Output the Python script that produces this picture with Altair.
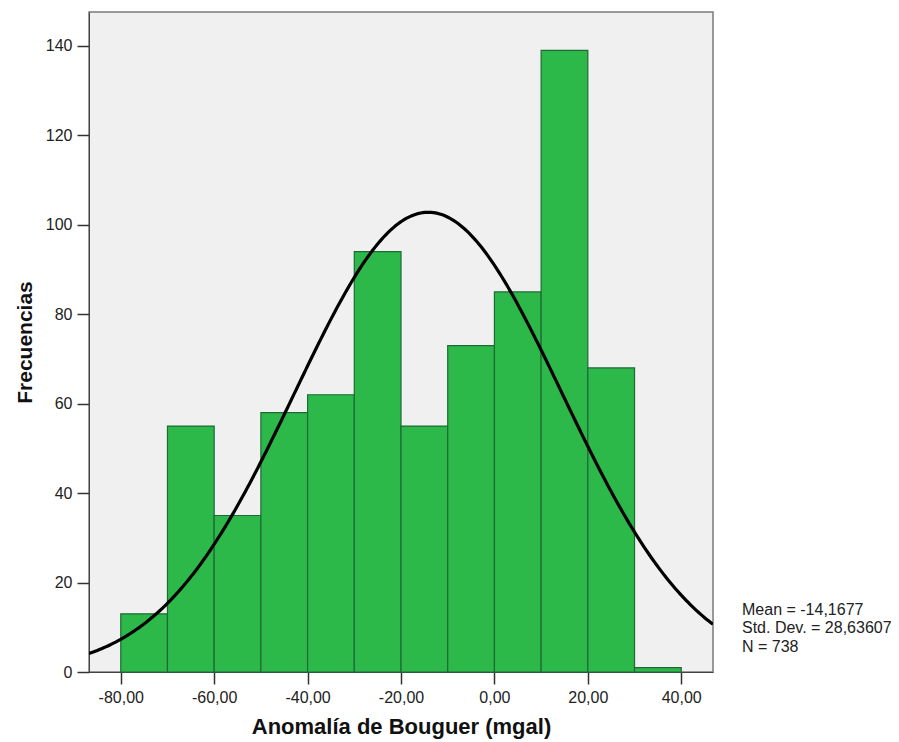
import altair as alt
import pandas as pd
import numpy as np

# Histogram bins (lower edges, width 10) and frequencies
bin_lower = [-80, -70, -60, -50, -40, -30, -20, -10, 0, 10, 20, 30]
counts = [13, 55, 35, 58, 62, 94, 55, 73, 85, 139, 68, 1]
bin_width = 10

# Normal curve parameters shown on the chart
mean = -14.1677
std = 28.63607
n_total = 738

x_ticks = [-80, -60, -40, -20, 0, 20, 40]
y_ticks = [0, 20, 40, 60, 80, 100, 120, 140]
stats_text = ["Mean = -14,1677", "Std. Dev. = 28,63607", "N = 738"]

x_dom = [-86.8, 46.8]
y_dom = [0, 147.6]

bars = pd.DataFrame({
    "lo": bin_lower,
    "hi": [b + bin_width for b in bin_lower],
    "count": counts,
})

xs = np.linspace(x_dom[0], x_dom[1], 300)
ys = n_total * bin_width / (std * np.sqrt(2 * np.pi)) * np.exp(-0.5 * ((xs - mean) / std) ** 2)
curve = pd.DataFrame({"x": xs, "y": ys})

FONT = "Liberation Sans"

xscale = alt.Scale(domain=x_dom, nice=False, zero=False)
yscale = alt.Scale(domain=y_dom, nice=False, zero=False)

xaxis = alt.Axis(
    values=x_ticks, labelExpr="datum.value + ',00'", title="Anomalía de Bouguer (mgal)",
    grid=False, tickSize=12, tickColor="#333", tickWidth=1.5, domainColor="#444",
    labelFontSize=16, labelColor="#222", labelFont=FONT, labelPadding=5,
    titleFont=FONT, titleFontSize=22, titleFontWeight="bold", titleColor="#111", titlePadding=11,
)
yaxis = alt.Axis(
    values=y_ticks, title="Frecuencias",
    grid=False, tickSize=12, tickColor="#333", tickWidth=1.5, domainColor="#444",
    labelFontSize=16, labelColor="#222", labelFont=FONT, labelPadding=5,
    titleFont=FONT, titleFontSize=21, titleFontWeight="bold", titleColor="#111", titlePadding=10,
)

bar_layer = alt.Chart(bars).mark_rect(
    color="#2db84a", stroke="#1d6a35", strokeWidth=1.2
).encode(
    x=alt.X("lo:Q", scale=xscale, axis=xaxis),
    x2="hi:Q",
    y=alt.Y("count:Q", scale=yscale, axis=yaxis),
    y2=alt.datum(0),
)

curve_layer = alt.Chart(curve).mark_line(color="#000", strokeWidth=3.2, clip=True).encode(
    x=alt.X("x:Q", scale=xscale),
    y=alt.Y("y:Q", scale=yscale),
)

text_layers = []
for i, t in enumerate(stats_text):
    text_layers.append(
        alt.Chart(pd.DataFrame({"t": [t]})).mark_text(
            align="left", baseline="alphabetic", font=FONT, fontSize=16, color="#222"
        ).encode(
            x=alt.value(653),
            y=alt.value(603 + 18.3 * i),
            text="t:N",
        )
    )

chart = alt.layer(bar_layer, curve_layer, *text_layers).properties(
    width=624, height=660,
    background="#ffffff",
    padding={"left": 81, "top": 4, "right": 178, "bottom": 70},
    autosize=alt.AutoSizeParams(type="none"),
).configure_view(
    fill="#f0f0f0", stroke="#7a7a7a", strokeWidth=1.5
)

chart.save("out.html", embed_options={"renderer": "svg", "actions": False})
